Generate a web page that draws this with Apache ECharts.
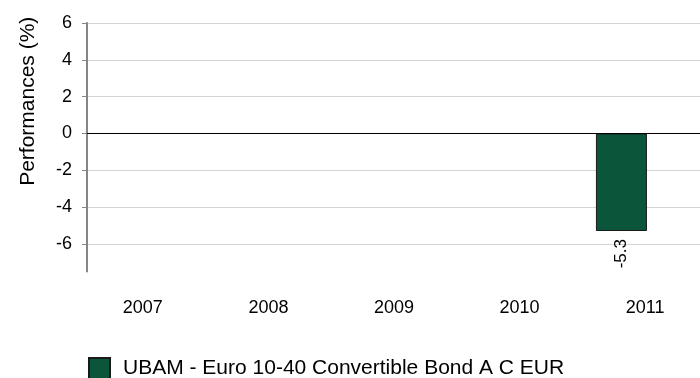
<!DOCTYPE html>
<html>
<head>
<meta charset="utf-8">
<script src="https://cdn.jsdelivr.net/npm/echarts@6/dist/echarts.min.js"></script>
<style>html,body{margin:0;padding:0;background:#fff;overflow:hidden;width:700px;height:378px}#c{width:715px;height:378px}</style>
</head>
<body>
<div id="c"></div>
<script>
var categories = ['2007', '2008', '2009', '2010', '2011'];
var seriesName = 'UBAM - Euro 10-40 Convertible Bond A C EUR';
var values = [null, null, null, null, -5.3];
var yTicks = [-6, -4, -2, 0, 2, 4, 6];
var yMin = -7.5, yMax = 6;

var FONT = '"Liberation Sans", Arial, sans-serif';
var chart = echarts.init(document.getElementById('c'), null, {renderer: 'canvas'});
chart.setOption({
  animation: false,
  backgroundColor: '#fff',
  grid: {left: 87, right: 0, top: 23, bottom: 106.5, containLabel: false},
  legend: {
    data: [seriesName],
    left: 88, top: 357,
    padding: 0,
    itemWidth: 21, itemHeight: 21,
    icon: 'rect',
    textStyle: {fontFamily: FONT, fontSize: 21, color: '#000', padding: [0, 0, 0, 8]}
  },
  xAxis: {
    type: 'category',
    data: categories,
    axisLine: {show: false, onZero: false},
    axisTick: {show: false},
    axisLabel: {fontFamily: FONT, fontSize: 18, color: '#000', margin: 28, padding: [0, 14, 0, 0]},
    splitLine: {show: false}
  },
  yAxis: {
    type: 'value',
    min: yMin, max: yMax,
    name: 'Performances (%)',
    nameLocation: 'middle',
    nameGap: 48,
    nameTextStyle: {fontFamily: FONT, fontSize: 21, color: '#000', padding: [0, 0, 0, 92]},
    axisLine: {show: true, lineStyle: {color: '#868686', width: 2}},
    axisTick: {show: true, length: 5, customValues: yTicks, lineStyle: {color: '#868686', width: 1}},
    axisLabel: {fontFamily: FONT, fontSize: 18, color: '#000', margin: 15, customValues: yTicks},
    splitLine: {show: true, lineStyle: {color: '#d4d4d4', width: 1}}
  },
  series: [
    {
      name: seriesName,
      type: 'bar',
      data: values,
      barWidth: 51,
      barGap: '20.6%',
      itemStyle: {color: '#0b553a', borderColor: '#1a1a1a', borderWidth: 1},
      label: {
        show: true, position: 'bottom', rotate: 90, distance: 8,
        align: 'right', verticalAlign: 'middle',
        fontFamily: FONT, fontSize: 17, color: '#000',
        formatter: function (p) { return p.value == null ? '' : String(p.value); }
      },
      markLine: {
        silent: true, symbol: 'none', label: {show: false},
        lineStyle: {color: '#000', type: 'solid', width: 1},
        data: [{yAxis: 0}]
      }
    },
    {
      name: 'pad',
      type: 'bar',
      data: [null, null, null, null, null],
      barWidth: 51
    }
  ]
});
</script>
</body>
</html>
